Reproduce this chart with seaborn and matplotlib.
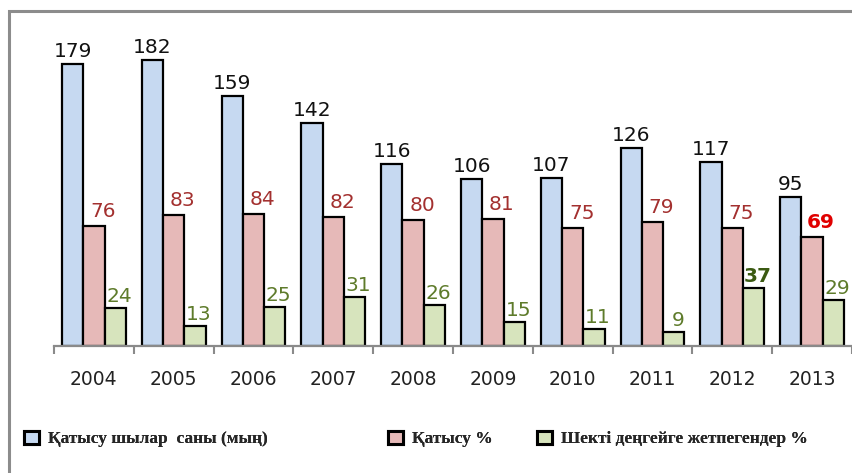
import matplotlib
matplotlib.use("Agg")
import matplotlib.pyplot as plt
from matplotlib.patches import Patch, Rectangle
import seaborn as sns
import pandas as pd
import numpy as np

years = ["2004", "2005", "2006", "2007", "2008", "2009", "2010", "2011", "2012", "2013"]
participants = [179, 182, 159, 142, 116, 106, 107, 126, 117, 95]
participation_pct = [76, 83, 84, 82, 80, 81, 75, 79, 75, 69]
below_threshold_pct = [24, 13, 25, 31, 26, 15, 11, 9, 37, 29]
series_names = ["Қатысу шылар  саны (мың)", "Қатысу %", "Шекті деңгейге жетпегендер %"]

df = pd.DataFrame({
    "year": years * 3,
    "value": participants + participation_pct + below_threshold_pct,
    "series": [series_names[0]] * 10 + [series_names[1]] * 10 + [series_names[2]] * 10,
})

fill_colors = ["#c6d9f1", "#e6b9b8", "#d7e4bd"]
label_colors = ["#111111", "#a3302f", "#5e7b2b"]
label_dx = [0, 9, 4]      # pixel offsets
label_dy = [3, 5, 2]

sns.set_style("white")
W, H = 853, 473
fig = plt.figure(figsize=(W / 100, H / 100), dpi=100)

px_per_unit = 1.573
base_y = 346
ymax = 200
ax = fig.add_axes([54 / W, (H - base_y) / H, (852 - 54) / W, ymax * px_per_unit / H])

sns.barplot(data=df, x="year", y="value", hue="series", palette=fill_colors,
            edgecolor="black", linewidth=1.6, width=0.8, gap=0, legend=False,
            saturation=1, ax=ax)

ax.set_ylim(0, ymax)
ax.set_xlim(-0.5, len(years) - 0.5)

for si, cont in enumerate(ax.containers):
    for bi, bar in enumerate(cont):
        val = bar.get_height()
        cx = bar.get_x() + bar.get_width() / 2
        color = label_colors[si]
        weight = "normal"
        if si == 2 and years[bi] == "2012":
            color, weight = "#3b5a12", "bold"
        if si == 1 and years[bi] == "2013":
            color, weight = "#e00000", "bold"
        ax.annotate(f"{int(val)}", (cx, val), xytext=(label_dx[si] * 0.72, label_dy[si] * 0.72),
                    textcoords="offset points", ha="center", va="bottom",
                    fontsize=14.5, color=color, fontweight=weight,
                    family="DejaVu Sans", annotation_clip=False)

for s in ["left", "top", "right"]:
    ax.spines[s].set_visible(False)
ax.spines["bottom"].set_color("#8a8a8a")
ax.spines["bottom"].set_linewidth(1.6)
ax.set_yticks([])
ax.set_xlabel("")
ax.set_ylabel("")
ax.set_xticks(range(len(years)))
ax.set_xticklabels(years)
ax.set_xticks(np.arange(-0.5, len(years), 1.0), minor=True)
ax.tick_params(axis="x", which="major", length=0, pad=17, labelsize=13.5, labelcolor="#222222")
ax.tick_params(axis="x", which="minor", length=6, width=1.5, color="#8a8a8a", direction="out", bottom=True)
ax.set_facecolor("none")

# outer frame
frame = Rectangle((8.5 / W, -0.1), 1.2, (H - 11) / H + 0.1, transform=fig.transFigure,
                  fill=False, edgecolor="#8c8c8c", linewidth=2.2)
fig.patches.append(frame)

# legends
leg_x = [24, 388, 537]
leg_y = 1 - 439 / H
for i in range(3):
    h = Patch(facecolor=fill_colors[i], edgecolor="black", linewidth=2.2)
    lg = fig.legend(handles=[h], labels=[series_names[i]], loc="center left",
                    bbox_to_anchor=(leg_x[i] / W, leg_y), frameon=False,
                    borderpad=0, borderaxespad=0, handlelength=0.85, handleheight=0.85,
                    handletextpad=0.55,
                    prop={"family": "Liberation Serif", "weight": "bold", "size": 12.5})
    fig.add_artist(lg)

fig.savefig("out.png", dpi=100)
